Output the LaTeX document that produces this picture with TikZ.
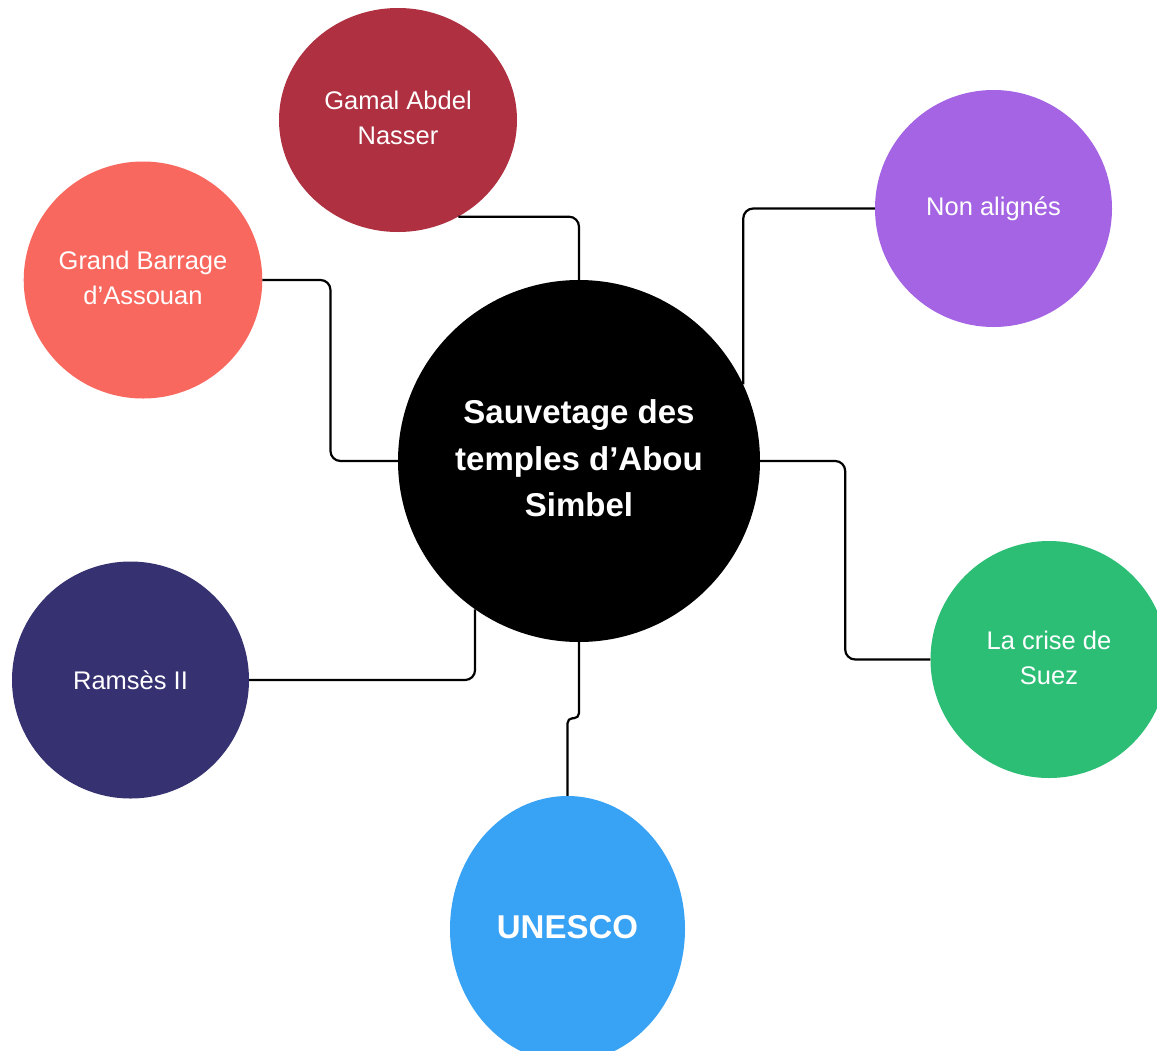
\documentclass[tikz,border=0pt]{standalone}
\usepackage{fontspec}
\setmainfont{Liberation Sans}
\usetikzlibrary{shapes.geometric}
\definecolor{cNasser}{HTML}{AE3041}
\definecolor{cBarrage}{HTML}{F9685E}
\definecolor{cNonal}{HTML}{A464E3}
\definecolor{cSuez}{HTML}{2DBE76}
\definecolor{cRamses}{HTML}{363171}
\definecolor{cUnesco}{HTML}{38A2F4}
\newcommand{\lines}[2][3pt]{\raisebox{#1}{\begin{tabular}{@{}c@{}}#2\end{tabular}}}
\tikzset{
  bubble/.style={ellipse, inner sep=0pt, text=white, align=center,
    minimum width=237pt, minimum height=237pt,
    font=\fontsize{25.5}{35}\selectfont},
  hub/.style={circle, fill=black, inner sep=0pt, text=white, align=center,
    minimum size=362pt, font=\bfseries\fontsize{33}{46.5}\selectfont},
  conn/.style={draw=black, line width=2.2pt, rounded corners=10pt},
}
\begin{document}
\begin{tikzpicture}[x=1pt,y=-1pt]
\useasboundingbox[fill=white] (0,0) rectangle (1157,1050);
\node[hub] (center) at (579,461) {\lines[2pt]{Sauvetage des\\temples d'Abou\\Simbel}};
\node[bubble, fill=cNasser, minimum width=238pt, minimum height=224pt] (nasser) at (398,120) {\lines{Gamal Abdel\\Nasser}};
\node[bubble, fill=cBarrage] (barrage) at (143,280) {\lines{Grand Barrage\\d'Assouan}};
\node[bubble, fill=cNonal] (nonal) at (993.5,208.5) {Non alignés};
\node[bubble, fill=cSuez] (suez) at (1049,659.5) {\lines[2pt]{La crise de\\Suez}};
\node[bubble, fill=cRamses] (ramses) at (130.5,680) {Ramsès II};
\node[bubble, fill=cUnesco, minimum width=235pt, minimum height=266pt, font=\bfseries\fontsize{33}{38}\selectfont] (unesco) at (567.5,929) {\raisebox{5pt}{UNESCO}};
\draw[conn] (nasser.-58.5) -| (center.north);
\draw[conn] (barrage.east) -- ++(68,0) |- (center.west);
\draw[conn] (nonal.west) -| (center.25);
\draw[conn] (center.east) -- ++(85,0) |- (suez.west);
\draw[conn] (ramses.east) -| (center.-125.5);
\draw[conn, rounded corners=5pt] (center.south) -- ++(0,76) -| (unesco.north);
\end{tikzpicture}
\end{document}
